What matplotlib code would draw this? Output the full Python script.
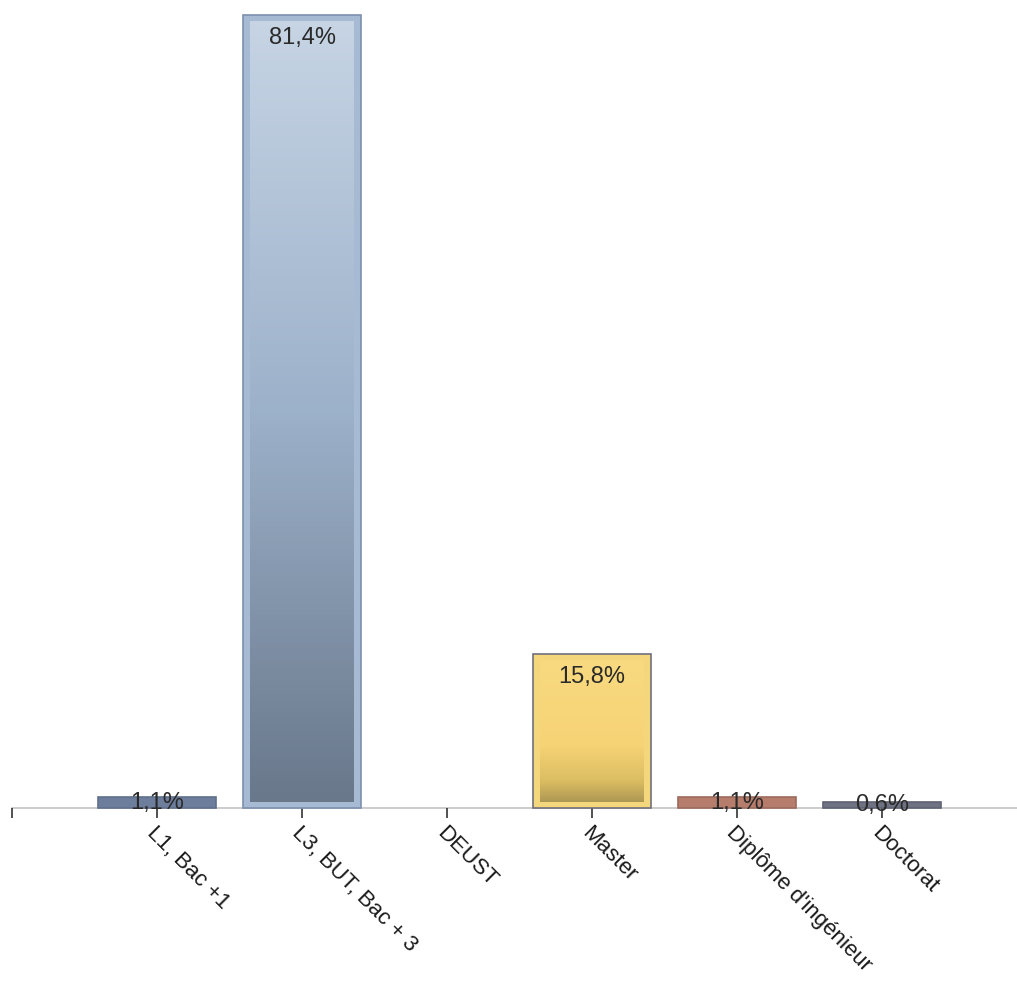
import numpy as np
import matplotlib
matplotlib.use("Agg")
import matplotlib.pyplot as plt
from matplotlib.colors import LinearSegmentedColormap

plt.rcParams['font.family'] = ['Liberation Sans', 'DejaVu Sans']

###############################################################
###         Donnees

categories = ["L1, Bac +1", "L3, BUT, Bac + 3", "DEUST", "Master",
              "Diplôme d'ingénieur", "Doctorat"]
valeurs = [1.1, 81.4, 0.0, 15.8, 1.1, 0.6]
etiquettes = ["1,1%", "81,4%", "", "15,8%", "1,1%", "0,6%"]

###############################################################
###         Styles

couleurs = ["#6d7d9c", "#a6bad4", "#a6bad4", "#f4d67c", "#b67d6c", "#6e7283"]
bords = ["#5f6f8c", "#7d90ae", "#7d90ae", "#70707c", "#9c6a5c", "#5e6272"]

# degrades pour les deux grandes barres (index -> couleurs)
degrades = {
    1: [(0.0, "#c6d4e4"), (0.5, "#9cb1ca"), (1.0, "#69788b")],
    3: [(0.0, "#f9da80"), (0.6, "#f6d375"), (0.85, "#dcbe62"), (1.0, "#ad9754")],
}

largeur = 0.81
px_x = 1 / 145.0       # 1 pixel en unites x
px_y = 1 / 9.74        # 1 pixel en unites y


def _barre_degrade(ax, i, v, stops):
    cmap = LinearSegmentedColormap.from_list("g%d" % i, stops)
    grad = np.linspace(0, 1, 256).reshape(-1, 1)
    ix = 7 * px_x
    iy = 6 * px_y
    ax.imshow(grad, cmap=cmap, aspect="auto", interpolation="bicubic",
              extent=[i - largeur / 2 + ix, i + largeur / 2 - ix, iy, v - iy],
              origin="upper", zorder=3)


fig = plt.figure(figsize=(10.17, 9.85), dpi=100)
ax = fig.add_axes([0, 0, 1, 1])

x = np.arange(len(categories))
epaisseurs = [1.2 if v > 0 else 0 for v in valeurs]
ax.bar(x, valeurs, width=largeur, color=couleurs, edgecolor=bords,
       linewidth=epaisseurs, zorder=2)

for i, stops in degrades.items():
    _barre_degrade(ax, i, valeurs[i], stops)

for i, (v, t) in enumerate(zip(valeurs, etiquettes)):
    if not t:
        continue
    if v > 5:
        y = v - 23 * px_y
    else:
        y = v / 2
    ax.text(i, y, t, ha="center", va="center", fontsize=17,
            color="#2a2a2a", zorder=5)

ax.set_xlim(-1 - 12 * px_x, 5.93)
ax.set_ylim(-177 * px_y, 808 * px_y)

for s in ["top", "right", "left"]:
    ax.spines[s].set_visible(False)
ax.spines["bottom"].set_position(("data", 0))
ax.spines["bottom"].set_color("#c4c4c4")
ax.spines["bottom"].set_linewidth(1.2)
ax.spines["bottom"].set_zorder(1)
ax.spines["bottom"].set_bounds(-1, 5.93)

ax.set_yticks([])
ax.set_xticks([-1] + list(x))
ax.set_xticklabels([""] + categories, rotation=-45, ha="left", va="top",
                   rotation_mode="anchor", fontsize=16, color="#1a1a1a")
ax.tick_params(axis="x", length=7.5, width=1.2, color="#333333", pad=3)

fig.savefig("out.png", dpi=100, facecolor="white")
